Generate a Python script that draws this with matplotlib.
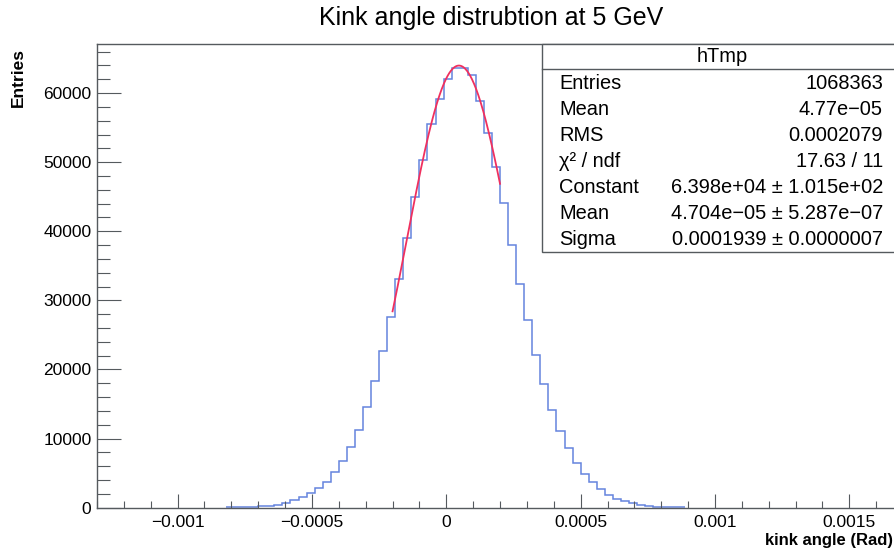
import numpy as np
import matplotlib
matplotlib.use("Agg")
import matplotlib.pyplot as plt
from matplotlib.patches import Rectangle
from matplotlib.ticker import MultipleLocator

plt.rcParams['font.family'] = ['Liberation Sans', 'DejaVu Sans']

# histograma: bordas fixas de 3e-5 rad, primeira borda em -0.00082
bin_start = -0.00082
bin_width = 3e-5
counts = [30, 50, 80, 130, 200, 300, 460, 750, 1100, 1600,
          2150, 2800, 3750, 5150, 6800, 8800, 11300, 14500, 18400, 22700,
          27600, 33100, 39000, 44900, 50300, 55500, 59200, 62000, 63600, 63600,
          62600, 58800, 54200, 49300, 44100, 38000, 32400, 27100, 22150, 17950,
          14150, 11100, 8600, 6500, 4900, 3700, 2650, 1900, 1300, 970,
          680, 430, 250, 150, 90, 50, 30]

# parametros do ajuste gaussiano (caixa de estatisticas)
fit_const = 6.398e4
fit_mean = 4.704e-05
fit_sigma = 0.0001939
fit_range = (-0.0002, 0.0002)

xticks = [-0.001, -0.0005, 0, 0.0005, 0.001, 0.0015]
xtick_labels = ['\u22120.001', '\u22120.0005', '0', '0.0005', '0.001', '0.0015']
yticks = [0, 10000, 20000, 30000, 40000, 50000, 60000]

stats_title = 'hTmp'
stats_names = ['Entries', 'Mean', 'RMS', '\u03c7\u00b2 / ndf', 'Constant', 'Mean', 'Sigma']
stats_values = ['1068363', '4.77e\u221205', '0.0002079', '17.63 / 11',
                '6.398e+04 \u00b1 1.015e+02', '4.704e\u221205 \u00b1 5.287e\u221207',
                '0.0001939 \u00b1 0.0000007']

W, H = 895, 557
fig = plt.figure(figsize=(W / 100, H / 100), dpi=100)
ax = fig.add_axes([97 / W, 1 - 507.7 / H, 1 - 97 / W, (507.7 - 44) / H])

edges = bin_start + bin_width * np.arange(len(counts) + 1)
ax.stairs(counts, edges, color='#6584de', linewidth=1.1, baseline=None)

xf = np.linspace(fit_range[0], fit_range[1], 200)
yf = fit_const * np.exp(-0.5 * ((xf - fit_mean) / fit_sigma) ** 2)
ax.plot(xf, yf, color='#f0305e', linewidth=1.3)

ax.set_xlim(-0.0013, 0.00167)
ax.set_ylim(0, 67100)

ax.set_xticks(xticks)
ax.set_xticklabels(xtick_labels)
ax.set_yticks(yticks)
ax.set_yticklabels([str(v) for v in yticks])
ax.xaxis.set_minor_locator(MultipleLocator(0.0001))
ax.yaxis.set_minor_locator(MultipleLocator(2000))

spine_col = '#555a5e'
for s in ax.spines.values():
    s.set_color(spine_col)
    s.set_linewidth(1.0)
ax.spines['right'].set_visible(False)

ax.tick_params(axis='both', which='both', direction='in', color=spine_col,
               width=0.8, labelsize=12.5)
ax.tick_params(axis='y', which='major', length=17, pad=4)
ax.tick_params(axis='y', which='minor', length=9)
ax.tick_params(axis='x', which='major', length=10, pad=5)
ax.tick_params(axis='x', which='minor', length=5)

# titulo e rotulos dos eixos
fig.text(491 / W, 1 - 18 / H, 'Kink angle distrubtion at 5 GeV',
         ha='center', va='center', fontsize=18)
fig.text(18 / W, 1 - 48 / H, 'Entries', rotation=90, ha='center', va='top',
         fontsize=12.5, fontweight='bold')
fig.text(893 / W, 1 - 540 / H, 'kink angle (Rad)', ha='right', va='center',
         fontsize=12, fontweight='bold')

# caixa de estatisticas
box = Rectangle((541.7 / W, 1 - 252.3 / H), 400 / W, (252.3 - 44) / H,
                transform=fig.transFigure, facecolor='white',
                edgecolor=spine_col, linewidth=1.0, zorder=5)
fig.add_artist(box)
fig.add_artist(plt.Line2D([541.7 / W, 1.0], [1 - 69.3 / H, 1 - 69.3 / H],
                          transform=fig.transFigure, color=spine_col,
                          linewidth=1.0, zorder=6))
fig.text(722 / W, 1 - 57 / H, stats_title, ha='center', va='center',
         fontsize=14.4, zorder=7)
for i, (name, val) in enumerate(zip(stats_names, stats_values)):
    yy = 1 - (83.5 + 26.0 * i) / H
    fig.text(559 / W, yy, name, ha='left', va='center', fontsize=14.4, zorder=7)
    fig.text(883 / W, yy, val, ha='right', va='center', fontsize=14.4, zorder=7)

fig.savefig('out.png', dpi=100)
